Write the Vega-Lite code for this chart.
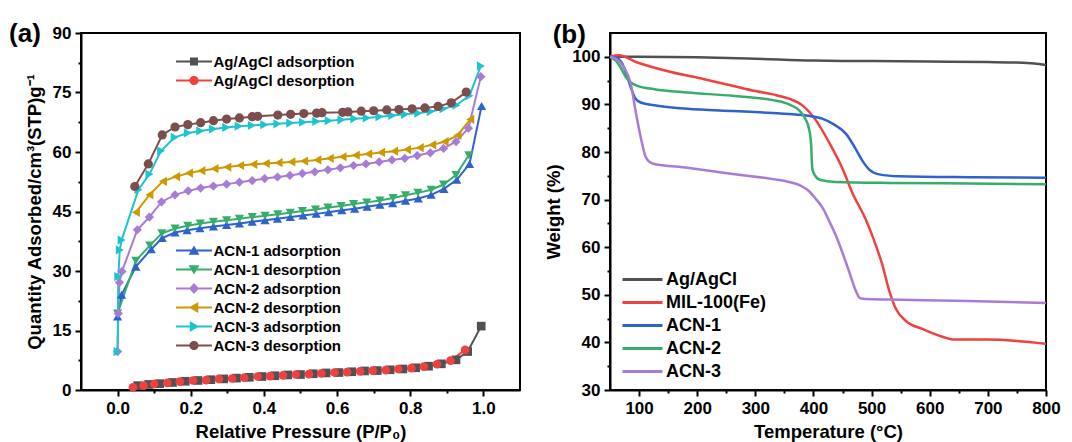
{
  "$schema": "https://vega.github.io/schema/vega-lite/v6.json",
  "background": "white",
  "padding": {"left": 8, "top": 20, "right": 5, "bottom": 2},
  "spacing": 22,
  "resolve": {"scale": {"color": "independent", "shape": "independent"}, "legend": {"color": "independent"}},
  "config": {
    "font": "Liberation Sans",
    "view": {"stroke": "black", "strokeWidth": 2},
    "axis": {
      "labelFont": "Liberation Sans", "labelFontWeight": "bold", "labelFontSize": 17, "labelColor": "black",
      "titleFont": "Liberation Sans", "titleFontWeight": "bold", "titleFontSize": 18.5, "titleColor": "black",
      "domainColor": "black", "domainWidth": 2, "tickColor": "black", "tickWidth": 2, "grid": false, "labelPadding": 4
    },
    "title": {"font": "Liberation Sans", "fontWeight": "bold", "fontSize": 26, "color": "black", "anchor": "start", "frame": "bounds", "offset": 0}
  },
  "hconcat": [
    {
      "width": 439,
      "height": 357,
      "title": {"text": "(a)", "dx": -16, "dy": 27},
      "encoding": {
        "x": {
          "field": "p", "type": "quantitative",
          "scale": {"domain": [-0.1, 1.1], "nice": false, "zero": false},
          "axis": {
            "title": "Relative Pressure (P/P₀)",
            "values": [0, 0.1, 0.2, 0.3, 0.4, 0.5, 0.6, 0.7, 0.8, 0.9, 1.0],
            "format": ".1f",
            "labelExpr": "round(datum.value*10) % 2 === 0 ? datum.label : ''",
            "tickSize": {"condition": {"test": "round(datum.value*10) % 2 === 0", "value": 6}, "value": 3},
            "labelFlush": false,
            "titlePadding": 6
          }
        },
        "y": {
          "field": "q", "type": "quantitative",
          "scale": {"domain": [0, 90], "nice": false},
          "axis": {
            "title": "Quantity Adsorbed/cm³(STP)g⁻¹",
            "values": [0, 7.5, 15, 22.5, 30, 37.5, 45, 52.5, 60, 67.5, 75, 82.5, 90],
            "labelExpr": "datum.value % 15 === 0 ? datum.label : ''",
            "tickSize": {"condition": {"test": "datum.value % 15 === 0", "value": 6}, "value": 3},
            "titlePadding": 8
          }
        }
      },
      "layer": [
        {
          "data": {"values": [
            {"s": "Ag/AgCl adsorption", "p": 0.055, "q": 1.1},
            {"s": "Ag/AgCl adsorption", "p": 0.085, "q": 1.4},
            {"s": "Ag/AgCl adsorption", "p": 0.115, "q": 1.6},
            {"s": "Ag/AgCl adsorption", "p": 0.15, "q": 1.9},
            {"s": "Ag/AgCl adsorption", "p": 0.185, "q": 2.2},
            {"s": "Ag/AgCl adsorption", "p": 0.22, "q": 2.4},
            {"s": "Ag/AgCl adsorption", "p": 0.255, "q": 2.6},
            {"s": "Ag/AgCl adsorption", "p": 0.29, "q": 2.8},
            {"s": "Ag/AgCl adsorption", "p": 0.325, "q": 3.0},
            {"s": "Ag/AgCl adsorption", "p": 0.36, "q": 3.2},
            {"s": "Ag/AgCl adsorption", "p": 0.395, "q": 3.4},
            {"s": "Ag/AgCl adsorption", "p": 0.43, "q": 3.6},
            {"s": "Ag/AgCl adsorption", "p": 0.465, "q": 3.8},
            {"s": "Ag/AgCl adsorption", "p": 0.5, "q": 3.9},
            {"s": "Ag/AgCl adsorption", "p": 0.535, "q": 4.1},
            {"s": "Ag/AgCl adsorption", "p": 0.57, "q": 4.3},
            {"s": "Ag/AgCl adsorption", "p": 0.605, "q": 4.4},
            {"s": "Ag/AgCl adsorption", "p": 0.64, "q": 4.6},
            {"s": "Ag/AgCl adsorption", "p": 0.675, "q": 4.8},
            {"s": "Ag/AgCl adsorption", "p": 0.71, "q": 4.9},
            {"s": "Ag/AgCl adsorption", "p": 0.745, "q": 5.1},
            {"s": "Ag/AgCl adsorption", "p": 0.78, "q": 5.3},
            {"s": "Ag/AgCl adsorption", "p": 0.815, "q": 5.6},
            {"s": "Ag/AgCl adsorption", "p": 0.85, "q": 6.0},
            {"s": "Ag/AgCl adsorption", "p": 0.885, "q": 6.6},
            {"s": "Ag/AgCl adsorption", "p": 0.925, "q": 7.6},
            {"s": "Ag/AgCl adsorption", "p": 0.957, "q": 9.7},
            {"s": "Ag/AgCl adsorption", "p": 0.994, "q": 16.1},
            {"s": "Ag/AgCl desorption", "p": 0.042, "q": 0.7},
            {"s": "Ag/AgCl desorption", "p": 0.071, "q": 1.1},
            {"s": "Ag/AgCl desorption", "p": 0.1, "q": 1.5},
            {"s": "Ag/AgCl desorption", "p": 0.136, "q": 1.8},
            {"s": "Ag/AgCl desorption", "p": 0.17, "q": 2.1},
            {"s": "Ag/AgCl desorption", "p": 0.206, "q": 2.4},
            {"s": "Ag/AgCl desorption", "p": 0.242, "q": 2.5},
            {"s": "Ag/AgCl desorption", "p": 0.277, "q": 2.8},
            {"s": "Ag/AgCl desorption", "p": 0.313, "q": 2.9},
            {"s": "Ag/AgCl desorption", "p": 0.346, "q": 3.1},
            {"s": "Ag/AgCl desorption", "p": 0.383, "q": 3.4},
            {"s": "Ag/AgCl desorption", "p": 0.417, "q": 3.5},
            {"s": "Ag/AgCl desorption", "p": 0.452, "q": 3.7},
            {"s": "Ag/AgCl desorption", "p": 0.487, "q": 3.9},
            {"s": "Ag/AgCl desorption", "p": 0.523, "q": 4.0},
            {"s": "Ag/AgCl desorption", "p": 0.557, "q": 4.2},
            {"s": "Ag/AgCl desorption", "p": 0.593, "q": 4.4},
            {"s": "Ag/AgCl desorption", "p": 0.627, "q": 4.5},
            {"s": "Ag/AgCl desorption", "p": 0.663, "q": 4.7},
            {"s": "Ag/AgCl desorption", "p": 0.697, "q": 4.9},
            {"s": "Ag/AgCl desorption", "p": 0.733, "q": 5.0},
            {"s": "Ag/AgCl desorption", "p": 0.767, "q": 5.3},
            {"s": "Ag/AgCl desorption", "p": 0.803, "q": 5.5},
            {"s": "Ag/AgCl desorption", "p": 0.837, "q": 5.9},
            {"s": "Ag/AgCl desorption", "p": 0.873, "q": 6.5},
            {"s": "Ag/AgCl desorption", "p": 0.91, "q": 7.4},
            {"s": "Ag/AgCl desorption", "p": 0.95, "q": 10.1}
          ]},
          "layer": [
            {
              "mark": {"type": "line", "strokeWidth": 2},
              "encoding": {
                "color": {"field": "s", "type": "nominal", "legend": null,
                  "scale": {"domain": ["Ag/AgCl adsorption", "Ag/AgCl desorption"], "range": ["#515151", "#F14040"]}}
              }
            },
            {
              "mark": {"type": "point", "filled": true, "opacity": 1, "size": 75},
              "encoding": {
                "color": {"field": "s", "type": "nominal", "legend": null,
                  "scale": {"domain": ["Ag/AgCl adsorption", "Ag/AgCl desorption"], "range": ["#515151", "#F14040"]}},
                "shape": {"condition": [{"test": "datum.s === 'Ag/AgCl adsorption'", "value": "square"}], "value": "circle"}
              }
            },
            {
              "transform": [{"filter": "false"}],
              "mark": {"type": "point", "filled": true, "opacity": 1},
              "encoding": {
                "color": {"field": "s", "type": "nominal",
                  "scale": {"domain": ["Ag/AgCl adsorption", "Ag/AgCl desorption"], "range": ["#515151", "#F14040"]},
                  "legend": {
                    "orient": "none", "legendX": 95, "legendY": 21, "title": null, "padding": 0,
                    "labelFont": "Liberation Sans", "labelFontSize": 15, "labelFontWeight": "bold", "labelColor": "black",
                    "symbolSize": 64, "symbolOffset": 10.5, "labelOffset": 12, "rowPadding": 3, "symbolStrokeWidth": 0
                  }
                },
                "shape": {"field": "s", "type": "nominal",
                  "scale": {"domain": ["Ag/AgCl adsorption", "Ag/AgCl desorption"],
                            "range": ["M-4.5,-0.25H4.5V0.25H-4.5Z M-1,-1H1V1H-1Z", "M-4.5,-0.25H4.5V0.25H-4.5Z M-1.15,0A1.15,1.15,0,1,1,1.15,0A1.15,1.15,0,1,1,-1.15,0Z"]},
                  "legend": {
                    "orient": "none", "legendX": 95, "legendY": 21, "title": null, "padding": 0,
                    "labelFont": "Liberation Sans", "labelFontSize": 15, "labelFontWeight": "bold", "labelColor": "black",
                    "symbolSize": 64, "symbolOffset": 10.5, "labelOffset": 12, "rowPadding": 3, "symbolStrokeWidth": 0
                  }
                }
              }
            }
          ],
          "resolve": {"scale": {"color": "independent", "shape": "independent"}, "legend": {"color": "independent", "shape": "independent"}}
        },
        {
          "data": {"values": [
            {"s": "ACN-1 adsorption", "p": 0, "q": 18.5},
            {"s": "ACN-1 adsorption", "p": 0.011, "q": 24.0},
            {"s": "ACN-1 adsorption", "p": 0.05, "q": 31.1},
            {"s": "ACN-1 adsorption", "p": 0.092, "q": 35.5},
            {"s": "ACN-1 adsorption", "p": 0.122, "q": 38.3},
            {"s": "ACN-1 adsorption", "p": 0.157, "q": 39.7},
            {"s": "ACN-1 adsorption", "p": 0.19, "q": 40.3},
            {"s": "ACN-1 adsorption", "p": 0.225, "q": 40.8},
            {"s": "ACN-1 adsorption", "p": 0.262, "q": 41.2},
            {"s": "ACN-1 adsorption", "p": 0.298, "q": 41.6},
            {"s": "ACN-1 adsorption", "p": 0.333, "q": 42.0},
            {"s": "ACN-1 adsorption", "p": 0.368, "q": 42.4},
            {"s": "ACN-1 adsorption", "p": 0.403, "q": 42.8},
            {"s": "ACN-1 adsorption", "p": 0.437, "q": 43.2},
            {"s": "ACN-1 adsorption", "p": 0.472, "q": 43.6},
            {"s": "ACN-1 adsorption", "p": 0.507, "q": 44.0},
            {"s": "ACN-1 adsorption", "p": 0.543, "q": 44.4},
            {"s": "ACN-1 adsorption", "p": 0.577, "q": 44.8},
            {"s": "ACN-1 adsorption", "p": 0.613, "q": 45.3},
            {"s": "ACN-1 adsorption", "p": 0.648, "q": 45.7},
            {"s": "ACN-1 adsorption", "p": 0.682, "q": 46.2},
            {"s": "ACN-1 adsorption", "p": 0.717, "q": 46.7},
            {"s": "ACN-1 adsorption", "p": 0.752, "q": 47.1},
            {"s": "ACN-1 adsorption", "p": 0.787, "q": 47.7},
            {"s": "ACN-1 adsorption", "p": 0.822, "q": 48.3},
            {"s": "ACN-1 adsorption", "p": 0.857, "q": 49.2},
            {"s": "ACN-1 adsorption", "p": 0.892, "q": 50.7},
            {"s": "ACN-1 adsorption", "p": 0.927, "q": 53.0},
            {"s": "ACN-1 adsorption", "p": 0.962, "q": 57.0},
            {"s": "ACN-1 adsorption", "p": 0.995, "q": 71.6},
            {"s": "ACN-1 desorption", "p": 0, "q": 19.3},
            {"s": "ACN-1 desorption", "p": 0.05, "q": 32.6},
            {"s": "ACN-1 desorption", "p": 0.088, "q": 36.4},
            {"s": "ACN-1 desorption", "p": 0.121, "q": 39.5},
            {"s": "ACN-1 desorption", "p": 0.157, "q": 40.7},
            {"s": "ACN-1 desorption", "p": 0.192, "q": 41.4},
            {"s": "ACN-1 desorption", "p": 0.226, "q": 42.0},
            {"s": "ACN-1 desorption", "p": 0.262, "q": 42.4},
            {"s": "ACN-1 desorption", "p": 0.298, "q": 42.8},
            {"s": "ACN-1 desorption", "p": 0.333, "q": 43.2},
            {"s": "ACN-1 desorption", "p": 0.368, "q": 43.6},
            {"s": "ACN-1 desorption", "p": 0.403, "q": 43.9},
            {"s": "ACN-1 desorption", "p": 0.438, "q": 44.3},
            {"s": "ACN-1 desorption", "p": 0.472, "q": 44.7},
            {"s": "ACN-1 desorption", "p": 0.505, "q": 45.1},
            {"s": "ACN-1 desorption", "p": 0.541, "q": 45.5},
            {"s": "ACN-1 desorption", "p": 0.575, "q": 46.0},
            {"s": "ACN-1 desorption", "p": 0.611, "q": 46.4},
            {"s": "ACN-1 desorption", "p": 0.645, "q": 46.9},
            {"s": "ACN-1 desorption", "p": 0.681, "q": 47.3},
            {"s": "ACN-1 desorption", "p": 0.717, "q": 47.8},
            {"s": "ACN-1 desorption", "p": 0.753, "q": 48.4},
            {"s": "ACN-1 desorption", "p": 0.787, "q": 49.1},
            {"s": "ACN-1 desorption", "p": 0.821, "q": 49.7},
            {"s": "ACN-1 desorption", "p": 0.857, "q": 50.5},
            {"s": "ACN-1 desorption", "p": 0.891, "q": 51.8},
            {"s": "ACN-1 desorption", "p": 0.925, "q": 54.2},
            {"s": "ACN-1 desorption", "p": 0.96, "q": 59.2},
            {"s": "ACN-2 adsorption", "p": 0, "q": 9.7},
            {"s": "ACN-2 adsorption", "p": 0.002, "q": 19.3},
            {"s": "ACN-2 adsorption", "p": 0.005, "q": 27.1},
            {"s": "ACN-2 adsorption", "p": 0.012, "q": 29.9},
            {"s": "ACN-2 adsorption", "p": 0.054, "q": 40.4},
            {"s": "ACN-2 adsorption", "p": 0.087, "q": 43.6},
            {"s": "ACN-2 adsorption", "p": 0.12, "q": 47.4},
            {"s": "ACN-2 adsorption", "p": 0.157, "q": 49.2},
            {"s": "ACN-2 adsorption", "p": 0.193, "q": 50.2},
            {"s": "ACN-2 adsorption", "p": 0.227, "q": 50.9},
            {"s": "ACN-2 adsorption", "p": 0.262, "q": 51.4},
            {"s": "ACN-2 adsorption", "p": 0.298, "q": 51.9},
            {"s": "ACN-2 adsorption", "p": 0.333, "q": 52.4},
            {"s": "ACN-2 adsorption", "p": 0.368, "q": 52.8},
            {"s": "ACN-2 adsorption", "p": 0.402, "q": 53.3},
            {"s": "ACN-2 adsorption", "p": 0.437, "q": 53.7},
            {"s": "ACN-2 adsorption", "p": 0.471, "q": 54.1},
            {"s": "ACN-2 adsorption", "p": 0.505, "q": 54.6},
            {"s": "ACN-2 adsorption", "p": 0.539, "q": 55.0},
            {"s": "ACN-2 adsorption", "p": 0.575, "q": 55.5},
            {"s": "ACN-2 adsorption", "p": 0.609, "q": 56.0},
            {"s": "ACN-2 adsorption", "p": 0.645, "q": 56.6},
            {"s": "ACN-2 adsorption", "p": 0.679, "q": 57.0},
            {"s": "ACN-2 adsorption", "p": 0.715, "q": 57.5},
            {"s": "ACN-2 adsorption", "p": 0.75, "q": 58.0},
            {"s": "ACN-2 adsorption", "p": 0.785, "q": 58.4},
            {"s": "ACN-2 adsorption", "p": 0.819, "q": 59.1},
            {"s": "ACN-2 adsorption", "p": 0.855, "q": 59.8},
            {"s": "ACN-2 adsorption", "p": 0.891, "q": 60.9},
            {"s": "ACN-2 adsorption", "p": 0.925, "q": 62.6},
            {"s": "ACN-2 adsorption", "p": 0.959, "q": 66.0},
            {"s": "ACN-2 adsorption", "p": 0.993, "q": 79.0},
            {"s": "ACN-2 desorption", "p": 0.05, "q": 44.8},
            {"s": "ACN-2 desorption", "p": 0.087, "q": 49.2},
            {"s": "ACN-2 desorption", "p": 0.124, "q": 52.6},
            {"s": "ACN-2 desorption", "p": 0.16, "q": 53.8},
            {"s": "ACN-2 desorption", "p": 0.195, "q": 54.7},
            {"s": "ACN-2 desorption", "p": 0.229, "q": 55.3},
            {"s": "ACN-2 desorption", "p": 0.265, "q": 55.8},
            {"s": "ACN-2 desorption", "p": 0.3, "q": 56.2},
            {"s": "ACN-2 desorption", "p": 0.335, "q": 56.6},
            {"s": "ACN-2 desorption", "p": 0.371, "q": 56.9},
            {"s": "ACN-2 desorption", "p": 0.405, "q": 57.1},
            {"s": "ACN-2 desorption", "p": 0.44, "q": 57.3},
            {"s": "ACN-2 desorption", "p": 0.475, "q": 57.5},
            {"s": "ACN-2 desorption", "p": 0.51, "q": 57.7},
            {"s": "ACN-2 desorption", "p": 0.546, "q": 58.0},
            {"s": "ACN-2 desorption", "p": 0.58, "q": 58.4},
            {"s": "ACN-2 desorption", "p": 0.615, "q": 58.8},
            {"s": "ACN-2 desorption", "p": 0.651, "q": 59.2},
            {"s": "ACN-2 desorption", "p": 0.685, "q": 59.5},
            {"s": "ACN-2 desorption", "p": 0.72, "q": 59.9},
            {"s": "ACN-2 desorption", "p": 0.756, "q": 60.2},
            {"s": "ACN-2 desorption", "p": 0.791, "q": 60.6},
            {"s": "ACN-2 desorption", "p": 0.826, "q": 61.1},
            {"s": "ACN-2 desorption", "p": 0.86, "q": 61.8},
            {"s": "ACN-2 desorption", "p": 0.894, "q": 62.6},
            {"s": "ACN-2 desorption", "p": 0.929, "q": 64.2},
            {"s": "ACN-2 desorption", "p": 0.964, "q": 68.2},
            {"s": "ACN-3 adsorption", "p": 0, "q": 9.7},
            {"s": "ACN-3 adsorption", "p": 0.002, "q": 28.6},
            {"s": "ACN-3 adsorption", "p": 0.006, "q": 35.3},
            {"s": "ACN-3 adsorption", "p": 0.011, "q": 37.8},
            {"s": "ACN-3 adsorption", "p": 0.057, "q": 50.5},
            {"s": "ACN-3 adsorption", "p": 0.087, "q": 54.4},
            {"s": "ACN-3 adsorption", "p": 0.119, "q": 60.3},
            {"s": "ACN-3 adsorption", "p": 0.156, "q": 63.7},
            {"s": "ACN-3 adsorption", "p": 0.192, "q": 64.8},
            {"s": "ACN-3 adsorption", "p": 0.226, "q": 65.3},
            {"s": "ACN-3 adsorption", "p": 0.261, "q": 65.8},
            {"s": "ACN-3 adsorption", "p": 0.297, "q": 66.2},
            {"s": "ACN-3 adsorption", "p": 0.331, "q": 66.5},
            {"s": "ACN-3 adsorption", "p": 0.367, "q": 66.7},
            {"s": "ACN-3 adsorption", "p": 0.401, "q": 66.9},
            {"s": "ACN-3 adsorption", "p": 0.437, "q": 67.1},
            {"s": "ACN-3 adsorption", "p": 0.472, "q": 67.3},
            {"s": "ACN-3 adsorption", "p": 0.507, "q": 67.5},
            {"s": "ACN-3 adsorption", "p": 0.543, "q": 67.7},
            {"s": "ACN-3 adsorption", "p": 0.577, "q": 67.9},
            {"s": "ACN-3 adsorption", "p": 0.612, "q": 68.1},
            {"s": "ACN-3 adsorption", "p": 0.647, "q": 68.4},
            {"s": "ACN-3 adsorption", "p": 0.681, "q": 68.6},
            {"s": "ACN-3 adsorption", "p": 0.716, "q": 68.9},
            {"s": "ACN-3 adsorption", "p": 0.751, "q": 69.2},
            {"s": "ACN-3 adsorption", "p": 0.786, "q": 69.5},
            {"s": "ACN-3 adsorption", "p": 0.822, "q": 69.8},
            {"s": "ACN-3 adsorption", "p": 0.856, "q": 70.2},
            {"s": "ACN-3 adsorption", "p": 0.891, "q": 70.9},
            {"s": "ACN-3 adsorption", "p": 0.926, "q": 71.8},
            {"s": "ACN-3 adsorption", "p": 0.962, "q": 74.2},
            {"s": "ACN-3 adsorption", "p": 0.993, "q": 81.7},
            {"s": "ACN-3 desorption", "p": 0.047, "q": 51.3},
            {"s": "ACN-3 desorption", "p": 0.084, "q": 57.0},
            {"s": "ACN-3 desorption", "p": 0.122, "q": 64.3},
            {"s": "ACN-3 desorption", "p": 0.157, "q": 66.3},
            {"s": "ACN-3 desorption", "p": 0.192, "q": 66.9},
            {"s": "ACN-3 desorption", "p": 0.227, "q": 67.4},
            {"s": "ACN-3 desorption", "p": 0.262, "q": 67.9},
            {"s": "ACN-3 desorption", "p": 0.298, "q": 68.3},
            {"s": "ACN-3 desorption", "p": 0.333, "q": 68.6},
            {"s": "ACN-3 desorption", "p": 0.368, "q": 68.9},
            {"s": "ACN-3 desorption", "p": 0.383, "q": 69.0},
            {"s": "ACN-3 desorption", "p": 0.438, "q": 69.3},
            {"s": "ACN-3 desorption", "p": 0.473, "q": 69.5},
            {"s": "ACN-3 desorption", "p": 0.509, "q": 69.7},
            {"s": "ACN-3 desorption", "p": 0.544, "q": 69.8},
            {"s": "ACN-3 desorption", "p": 0.559, "q": 69.9},
            {"s": "ACN-3 desorption", "p": 0.615, "q": 70.0},
            {"s": "ACN-3 desorption", "p": 0.63, "q": 70.1},
            {"s": "ACN-3 desorption", "p": 0.666, "q": 70.3},
            {"s": "ACN-3 desorption", "p": 0.7, "q": 70.4},
            {"s": "ACN-3 desorption", "p": 0.736, "q": 70.6},
            {"s": "ACN-3 desorption", "p": 0.769, "q": 70.7},
            {"s": "ACN-3 desorption", "p": 0.805, "q": 70.9},
            {"s": "ACN-3 desorption", "p": 0.84, "q": 71.1},
            {"s": "ACN-3 desorption", "p": 0.876, "q": 71.5},
            {"s": "ACN-3 desorption", "p": 0.912, "q": 72.4},
            {"s": "ACN-3 desorption", "p": 0.953, "q": 75.1}
          ]},
          "layer": [
            {
              "mark": {"type": "line", "strokeWidth": 2},
              "encoding": {
                "color": {"field": "s", "type": "nominal", "legend": null,
                  "scale": {"domain": ["ACN-1 adsorption", "ACN-1 desorption", "ACN-2 adsorption", "ACN-2 desorption", "ACN-3 adsorption", "ACN-3 desorption"],
                            "range": ["#2E62CC", "#37AD6B", "#A87BD6", "#CC9900", "#1EC3CF", "#7D4E4E"]}}
              }
            },
            {
              "mark": {"type": "point", "filled": true, "opacity": 1, "size": 85},
              "encoding": {
                "color": {"field": "s", "type": "nominal", "legend": null,
                  "scale": {"domain": ["ACN-1 adsorption", "ACN-1 desorption", "ACN-2 adsorption", "ACN-2 desorption", "ACN-3 adsorption", "ACN-3 desorption"],
                            "range": ["#2E62CC", "#37AD6B", "#A87BD6", "#CC9900", "#1EC3CF", "#7D4E4E"]}},
                "shape": {"condition": [
                  {"test": "datum.s === 'ACN-1 adsorption'", "value": "triangle-up"},
                  {"test": "datum.s === 'ACN-1 desorption'", "value": "triangle-down"},
                  {"test": "datum.s === 'ACN-2 adsorption'", "value": "diamond"},
                  {"test": "datum.s === 'ACN-2 desorption'", "value": "triangle-left"},
                  {"test": "datum.s === 'ACN-3 adsorption'", "value": "triangle-right"}
                ], "value": "circle"}
              }
            },
            {
              "transform": [{"filter": "false"}],
              "mark": {"type": "point", "filled": true, "opacity": 1},
              "encoding": {
                "color": {"field": "s", "type": "nominal",
                  "scale": {"domain": ["ACN-1 adsorption", "ACN-1 desorption", "ACN-2 adsorption", "ACN-2 desorption", "ACN-3 adsorption", "ACN-3 desorption"],
                            "range": ["#2E62CC", "#37AD6B", "#A87BD6", "#CC9900", "#1EC3CF", "#7D4E4E"]},
                  "legend": {
                    "orient": "none", "legendX": 95, "legendY": 210, "title": null, "padding": 0,
                    "labelFont": "Liberation Sans", "labelFontSize": 15, "labelFontWeight": "bold", "labelColor": "black",
                    "symbolSize": 64, "symbolOffset": 10.5, "labelOffset": 12, "rowPadding": 3, "symbolStrokeWidth": 0
                  }
                },
                "shape": {"field": "s", "type": "nominal",
                  "scale": {"domain": ["ACN-1 adsorption", "ACN-1 desorption", "ACN-2 adsorption", "ACN-2 desorption", "ACN-3 adsorption", "ACN-3 desorption"],
                            "range": [
                              "M-4.5,-0.25H4.5V0.25H-4.5Z M0,-1.25L1.35,1.05L-1.35,1.05Z",
                              "M-4.5,-0.25H4.5V0.25H-4.5Z M0,1.25L-1.35,-1.05L1.35,-1.05Z",
                              "M-4.5,-0.25H4.5V0.25H-4.5Z M0,-1.35L1.25,0L0,1.35L-1.25,0Z",
                              "M-4.5,-0.25H4.5V0.25H-4.5Z M-1.25,0L1.05,-1.35L1.05,1.35Z",
                              "M-4.5,-0.25H4.5V0.25H-4.5Z M1.25,0L-1.05,1.35L-1.05,-1.35Z",
                              "M-4.5,-0.25H4.5V0.25H-4.5Z M-1.15,0A1.15,1.15,0,1,1,1.15,0A1.15,1.15,0,1,1,-1.15,0Z"
                            ]},
                  "legend": {
                    "orient": "none", "legendX": 95, "legendY": 210, "title": null, "padding": 0,
                    "labelFont": "Liberation Sans", "labelFontSize": 15, "labelFontWeight": "bold", "labelColor": "black",
                    "symbolSize": 64, "symbolOffset": 10.5, "labelOffset": 12, "rowPadding": 3, "symbolStrokeWidth": 0
                  }
                }
              }
            }
          ],
          "resolve": {"scale": {"color": "independent", "shape": "independent"}, "legend": {"color": "independent", "shape": "independent"}}
        }
      ],
      "resolve": {"scale": {"color": "independent", "shape": "independent"}, "legend": {"color": "independent", "shape": "independent"}}
    },
    {
      "width": 436,
      "height": 357,
      "title": {"text": "(b)", "dx": 8, "dy": 19},
      "data": {"values": [
        {"s": "Ag/AgCl", "t": 50, "w": 100},
        {"s": "Ag/AgCl", "t": 100, "w": 100},
        {"s": "Ag/AgCl", "t": 200, "w": 99.9},
        {"s": "Ag/AgCl", "t": 300, "w": 99.6},
        {"s": "Ag/AgCl", "t": 400, "w": 99.2},
        {"s": "Ag/AgCl", "t": 500, "w": 99.1},
        {"s": "Ag/AgCl", "t": 600, "w": 99.0},
        {"s": "Ag/AgCl", "t": 700, "w": 98.9},
        {"s": "Ag/AgCl", "t": 750, "w": 98.8},
        {"s": "Ag/AgCl", "t": 780, "w": 98.6},
        {"s": "Ag/AgCl", "t": 800, "w": 98.3},
        {"s": "MIL-100(Fe)", "t": 50, "w": 100},
        {"s": "MIL-100(Fe)", "t": 65, "w": 100.3},
        {"s": "MIL-100(Fe)", "t": 97, "w": 98.8},
        {"s": "MIL-100(Fe)", "t": 155, "w": 96.8},
        {"s": "MIL-100(Fe)", "t": 212, "w": 95.3},
        {"s": "MIL-100(Fe)", "t": 261, "w": 93.9},
        {"s": "MIL-100(Fe)", "t": 300, "w": 92.8},
        {"s": "MIL-100(Fe)", "t": 330, "w": 92.1},
        {"s": "MIL-100(Fe)", "t": 358, "w": 91.2},
        {"s": "MIL-100(Fe)", "t": 381, "w": 89.8},
        {"s": "MIL-100(Fe)", "t": 404, "w": 86.7},
        {"s": "MIL-100(Fe)", "t": 427, "w": 82.0},
        {"s": "MIL-100(Fe)", "t": 450, "w": 76.5},
        {"s": "MIL-100(Fe)", "t": 467, "w": 71.4},
        {"s": "MIL-100(Fe)", "t": 490, "w": 65.8},
        {"s": "MIL-100(Fe)", "t": 500, "w": 62.8},
        {"s": "MIL-100(Fe)", "t": 507, "w": 60.5},
        {"s": "MIL-100(Fe)", "t": 518, "w": 56.5},
        {"s": "MIL-100(Fe)", "t": 530, "w": 51.0},
        {"s": "MIL-100(Fe)", "t": 542, "w": 47.0},
        {"s": "MIL-100(Fe)", "t": 559, "w": 44.5},
        {"s": "MIL-100(Fe)", "t": 588, "w": 42.8},
        {"s": "MIL-100(Fe)", "t": 622, "w": 41.2},
        {"s": "MIL-100(Fe)", "t": 640, "w": 40.6},
        {"s": "MIL-100(Fe)", "t": 660, "w": 40.6},
        {"s": "MIL-100(Fe)", "t": 700, "w": 40.6},
        {"s": "MIL-100(Fe)", "t": 750, "w": 40.3},
        {"s": "MIL-100(Fe)", "t": 800, "w": 39.7},
        {"s": "ACN-1", "t": 50, "w": 100},
        {"s": "ACN-1", "t": 60, "w": 99.8},
        {"s": "ACN-1", "t": 70, "w": 98.8},
        {"s": "ACN-1", "t": 78, "w": 96.5},
        {"s": "ACN-1", "t": 86, "w": 93.5},
        {"s": "ACN-1", "t": 94, "w": 91.2},
        {"s": "ACN-1", "t": 103, "w": 90.4},
        {"s": "ACN-1", "t": 126, "w": 89.8},
        {"s": "ACN-1", "t": 183, "w": 89.1},
        {"s": "ACN-1", "t": 261, "w": 88.6},
        {"s": "ACN-1", "t": 330, "w": 88.2},
        {"s": "ACN-1", "t": 358, "w": 88.0},
        {"s": "ACN-1", "t": 392, "w": 87.6},
        {"s": "ACN-1", "t": 415, "w": 87.0},
        {"s": "ACN-1", "t": 435, "w": 85.8},
        {"s": "ACN-1", "t": 456, "w": 83.8},
        {"s": "ACN-1", "t": 470, "w": 81.2},
        {"s": "ACN-1", "t": 484, "w": 78.2},
        {"s": "ACN-1", "t": 496, "w": 76.3},
        {"s": "ACN-1", "t": 513, "w": 75.3},
        {"s": "ACN-1", "t": 548, "w": 74.9},
        {"s": "ACN-1", "t": 668, "w": 74.7},
        {"s": "ACN-1", "t": 800, "w": 74.6},
        {"s": "ACN-2", "t": 50, "w": 100},
        {"s": "ACN-2", "t": 60, "w": 99.2},
        {"s": "ACN-2", "t": 69, "w": 97.6},
        {"s": "ACN-2", "t": 78, "w": 95.6},
        {"s": "ACN-2", "t": 86, "w": 94.6},
        {"s": "ACN-2", "t": 97, "w": 93.9},
        {"s": "ACN-2", "t": 126, "w": 93.2},
        {"s": "ACN-2", "t": 183, "w": 92.5},
        {"s": "ACN-2", "t": 261, "w": 91.8},
        {"s": "ACN-2", "t": 330, "w": 90.9},
        {"s": "ACN-2", "t": 358, "w": 90.0},
        {"s": "ACN-2", "t": 375, "w": 88.8},
        {"s": "ACN-2", "t": 386, "w": 87.0},
        {"s": "ACN-2", "t": 393, "w": 84.5},
        {"s": "ACN-2", "t": 396, "w": 81.5},
        {"s": "ACN-2", "t": 398, "w": 76.5},
        {"s": "ACN-2", "t": 402, "w": 75.2},
        {"s": "ACN-2", "t": 412, "w": 74.1},
        {"s": "ACN-2", "t": 438, "w": 73.7},
        {"s": "ACN-2", "t": 530, "w": 73.5},
        {"s": "ACN-2", "t": 668, "w": 73.4},
        {"s": "ACN-2", "t": 800, "w": 73.2},
        {"s": "ACN-3", "t": 50, "w": 100},
        {"s": "ACN-3", "t": 60, "w": 99.6},
        {"s": "ACN-3", "t": 74, "w": 97.8},
        {"s": "ACN-3", "t": 86, "w": 94.2},
        {"s": "ACN-3", "t": 94, "w": 88.6},
        {"s": "ACN-3", "t": 103, "w": 83.0},
        {"s": "ACN-3", "t": 112, "w": 78.8},
        {"s": "ACN-3", "t": 123, "w": 77.6},
        {"s": "ACN-3", "t": 183, "w": 76.7},
        {"s": "ACN-3", "t": 261, "w": 75.4},
        {"s": "ACN-3", "t": 330, "w": 74.3},
        {"s": "ACN-3", "t": 358, "w": 73.7},
        {"s": "ACN-3", "t": 380, "w": 72.8},
        {"s": "ACN-3", "t": 392, "w": 71.8},
        {"s": "ACN-3", "t": 405, "w": 70.0},
        {"s": "ACN-3", "t": 415, "w": 68.4},
        {"s": "ACN-3", "t": 427, "w": 65.5},
        {"s": "ACN-3", "t": 438, "w": 62.6},
        {"s": "ACN-3", "t": 450, "w": 58.8},
        {"s": "ACN-3", "t": 461, "w": 55.0},
        {"s": "ACN-3", "t": 473, "w": 50.8},
        {"s": "ACN-3", "t": 480, "w": 49.3},
        {"s": "ACN-3", "t": 490, "w": 49.1},
        {"s": "ACN-3", "t": 530, "w": 49.0},
        {"s": "ACN-3", "t": 668, "w": 48.7},
        {"s": "ACN-3", "t": 800, "w": 48.3}
      ]},
      "mark": {"type": "line", "strokeWidth": 2.5, "interpolate": "monotone"},
      "encoding": {
        "x": {
          "field": "t", "type": "quantitative",
          "scale": {"domain": [50, 800], "nice": false, "zero": false},
          "axis": {
            "title": "Temperature (°C)",
            "values": [100, 150, 200, 250, 300, 350, 400, 450, 500, 550, 600, 650, 700, 750, 800],
            "labelExpr": "datum.value % 100 === 0 ? datum.label : ''",
            "tickSize": {"condition": {"test": "datum.value % 100 === 0", "value": 6}, "value": 3},
            "labelFlush": false,
            "titlePadding": 6
          }
        },
        "y": {
          "field": "w", "type": "quantitative",
          "scale": {"domain": [30, 105], "nice": false, "zero": false},
          "axis": {
            "title": "Weight (%)",
            "values": [30, 35, 40, 45, 50, 55, 60, 65, 70, 75, 80, 85, 90, 95, 100],
            "labelExpr": "datum.value % 10 === 0 ? datum.label : ''",
            "tickSize": {"condition": {"test": "datum.value % 10 === 0", "value": 6}, "value": 3},
            "titlePadding": 8
          }
        },
        "color": {
          "field": "s", "type": "nominal",
          "scale": {"domain": ["Ag/AgCl", "MIL-100(Fe)", "ACN-1", "ACN-2", "ACN-3"], "range": ["#515151", "#F14040", "#2E62CC", "#37AD6B", "#A87BD6"]},
          "legend": {
            "orient": "none", "legendX": 11, "legendY": 237, "title": null, "padding": 0,
            "labelFont": "Liberation Sans", "labelFontSize": 18, "labelFontWeight": "bold", "labelColor": "black",
            "symbolType": "M-2.5,0H2.5", "symbolSize": 256, "symbolStrokeWidth": 3, "symbolOffset": 12, "labelOffset": 14, "rowPadding": 4
          }
        }
      }
    }
  ]
}
